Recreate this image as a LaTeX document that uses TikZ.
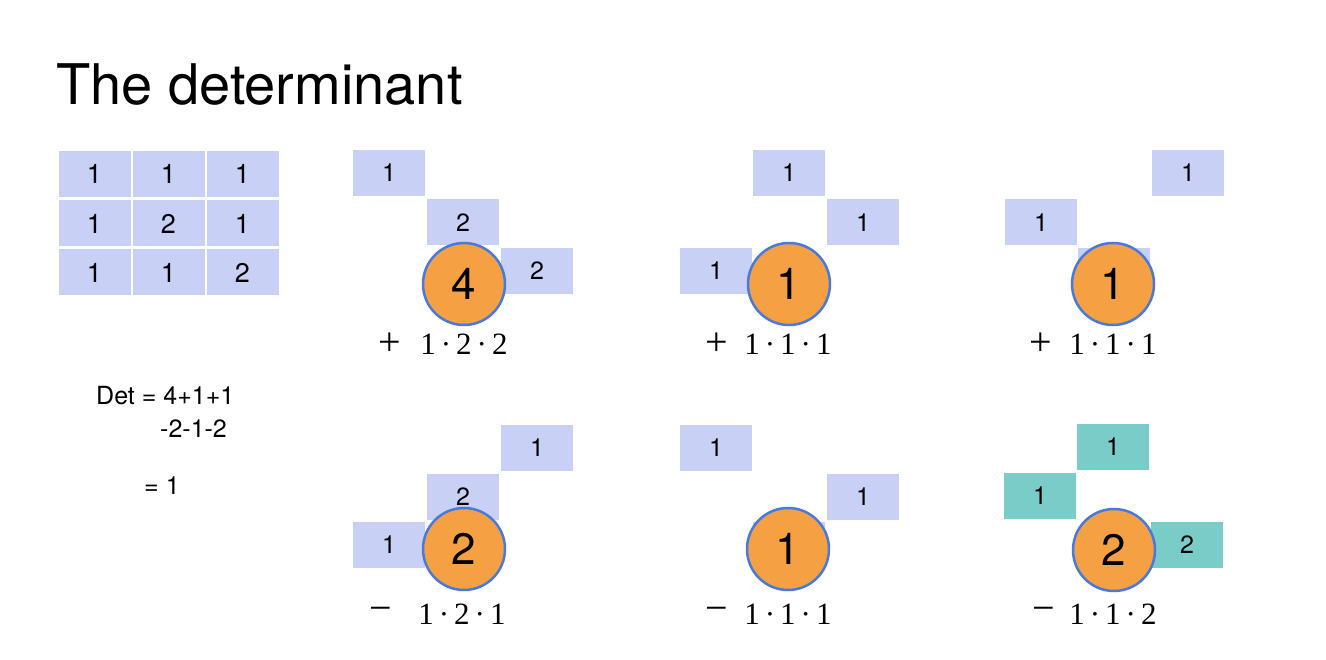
\documentclass[tikz,border=0pt]{standalone}
\usepackage{fontspec}
\setmainfont{TeX Gyre Heros}
\newfontfamily\labserif{Liberation Serif}
\definecolor{cellblue}{RGB}{201,208,245}
\definecolor{cellteal}{RGB}{122,204,200}
\definecolor{circfill}{RGB}{245,160,66}
\definecolor{circline}{RGB}{72,122,222}
\newcommand{\pd}{\hspace{5pt}·\hspace{5pt}}
\tikzset{
  cellbox/.style={fill=cellblue, minimum width=72pt, minimum height=46pt, inner sep=0pt, font=\fontsize{25}{28}\selectfont},
  matbox/.style={cellbox, font=\fontsize{27}{30}\selectfont},
  tealbox/.style={cellbox, fill=cellteal},
  circ/.style={circle, fill=circfill, draw=circline, line width=2.5pt, minimum size=82pt, inner sep=0pt, font=\fontsize{44}{46}\selectfont},
  prodlabel/.style={inner sep=0pt, font=\labserif\fontsize{31}{34}\selectfont},
  signlabel/.style={inner sep=0pt, font=\labserif\fontsize{40}{42}\selectfont},
  dettext/.style={inner sep=0pt, anchor=base west, font=\fontsize{25}{28}\selectfont}
}
\begin{document}
\begin{tikzpicture}[x=1pt,y=-1pt]
\useasboundingbox (0,0) rectangle (1326,660);
\fill[white] (0,0) rectangle (1326,660);
% title
\node[inner sep=0pt, anchor=base west, font=\fontsize{56}{60}\selectfont] (title) at (56,105) {The determinant};
% matrix
\node[matbox] (m11) at (94.5,174) {1};
\node[matbox] (m12) at (168.5,174) {1};
\node[matbox] (m13) at (242.5,174) {1};
\node[matbox] (m21) at (94.5,223.5) {1};
\node[matbox] (m22) at (168.5,223.5) {2};
\node[matbox] (m23) at (242.5,223.5) {1};
\node[matbox] (m31) at (94.5,272.5) {1};
\node[matbox] (m32) at (168.5,272.5) {1};
\node[matbox] (m33) at (242.5,272.5) {2};
% det text
\node[dettext] (det1) at (96,405) {Det = 4+1+1};
\node[dettext] (det2) at (160,437) {-2-1-2};
\node[dettext] (det3) at (144,494) {= 1};
% panel 1
\node[cellbox] (p1a) at (389,173) {1};
\node[cellbox] (p1b) at (463,222.5) {2};
\node[cellbox] (p1c) at (537,271) {2};
\node[circ] (c1) at (464,284) {4};
\node[signlabel] (s1) at (390,344) {+};
\node[prodlabel] (l1) at (464,344) {1\pd2\pd2};
% panel 2
\node[cellbox] (p2a) at (789,173) {1};
\node[cellbox] (p2b) at (863,222.5) {1};
\node[cellbox] (p2c) at (716,271) {1};
\node[circ] (c2) at (789,284) {1};
\node[signlabel] (s2) at (717,344) {+};
\node[prodlabel] (l2) at (788,344) {1\pd1\pd1};
% panel 3
\node[cellbox] (p3a) at (1188,173) {1};
\node[cellbox] (p3b) at (1041,222.5) {1};
\node[cellbox] (p3c) at (1114,271) {};
\node[circ] (c3) at (1113,284) {1};
\node[signlabel] (s3) at (1041,344) {+};
\node[prodlabel] (l3) at (1113,344) {1\pd1\pd1};
% panel 4
\node[cellbox] (p4a) at (537,448) {1};
\node[cellbox] (p4b) at (463,496.5) {2};
\node[cellbox] (p4c) at (389,545) {1};
\node[circ] (c4) at (464,549) {2};
\node[signlabel] (s4) at (381,614) {−};
\node[prodlabel] (l4) at (462,614) {1\pd2\pd1};
% panel 5
\node[cellbox] (p5a) at (716,448) {1};
\node[cellbox] (p5b) at (863,496.5) {1};
\node[cellbox] (p5c) at (789,545) {};
\node[circ] (c5) at (788,549) {1};
\node[signlabel] (s5) at (717,614) {−};
\node[prodlabel] (l5) at (788,614) {1\pd1\pd1};
% panel 6
\node[tealbox] (p6a) at (1113,446.5) {1};
\node[tealbox] (p6b) at (1040,496) {1};
\node[tealbox] (p6c) at (1187,544.5) {2};
\node[circ] (c6) at (1114,550) {2};
\node[signlabel] (s6) at (1044,614) {−};
\node[prodlabel] (l6) at (1113,614) {1\pd1\pd2};
\end{tikzpicture}
\end{document}
